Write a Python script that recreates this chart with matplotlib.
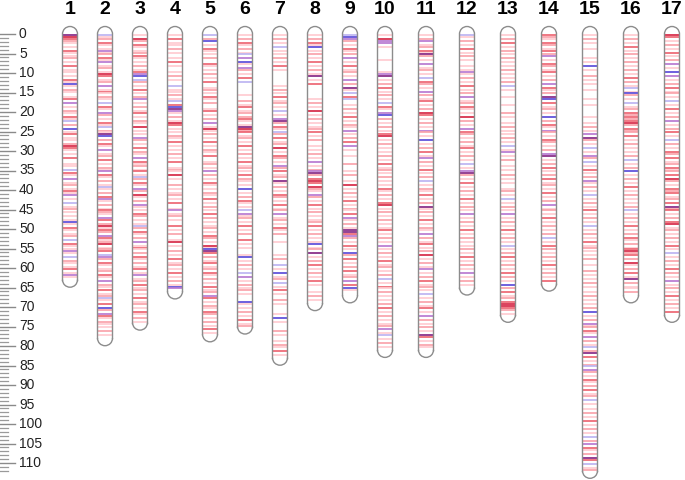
import matplotlib.pyplot as plt
from matplotlib.patches import Arc

# chromosome names and lengths (cM)
chrom_names = [str(i) for i in range(1, 18)]
chrom_len = [63, 78, 74, 66, 77, 75, 83, 69, 67, 81, 81, 65, 72, 64, 112, 67, 72]

# bands, one character per 0.5 cM  (. none, p/q/r/R reds, b/B blues, m/M purples)
chr1 = ("MRrqp.p.rp" ".pq.p.r.pp" ".p.rpBp.qp" "..pr.m.p.q" "p.rpb.q.B." "pr.pp.qRrp"
        ".p.r..pp.b" ".rp.m.pq.p" "rpm.p.b.pq" ".p.p.pBp.r" "p.pq.b.rp." "pmp.b.qp.p" "r.pmp.")
chr2 = ("bpq.rp.pmp" "q.rpm.pq.p" "Rr.pq.m.pr" "p.qp.b.rp." "mq.p.rpb.q" "pMB.q.rp.m"
        ".pq.r.p.qp" "m.rp.q.pbp" ".q.rmp.q.p" "rqp.mr.qRp" "rq.mrpqR.p" "qr.bmq.rp."
        "pq.rp.m.qp" ".r.pqbp.r." "Bq.mrp.qp." "p.q.p.")
chr3 = ("p.Rq.rp.pq" ".rp.p.q.pr" "mB.bq.p.r." "p.qm.p.q.p" "r.p.qp.R.p" ".p.mq.p.r."
        "qp.m.rpq.p" "r.pbq.rp.m" "q.Rp.q.mp." "p.rq.p.pbq" ".rp.q.m.pr" "p.q.rp.q.p"
        "r.pm.pq.r." "pq.p.r.pq." "p.rp.q.p")
chr4 = ("p.r.pp.q.p" "..p.r.p..p" ".q.p..b.pp" ".q.pb.rBMm" "p.q.pRr.p." "p.qp.r.p.p"
        ".q.p.r..pq" "p.R.p..q.p" ".pq.p.r..p" "m.pq.p..r." "p.q..pR.p." ".q.p.r.pq."
        "p.r.p.q.pB" "m.")
chr5 = ("b.qB.p.rp." "p.q..rp.p." "q.p.r..pq." "p.rp.q..pr" ".p.q.m.pRp" ".q.p.r.p.q"
        "p.r..pq.p." "m.q.p.rp.p" ".qp.r.p.q." "p.r.q.p.pq" ".p.rq.p.Rp" "BMr.q.pr.p"
        "q.rp.q.p.r" ".pq.mr.p.q" "p.rq.p.q.p" ".r.p")
chr6 = ("p.q.rp.q.p" "b.m.Bp.mq." "p.r.b....." ".p..q.pr.p" "q.qrp.pMRq" "r.pq.p.r.p"
        ".q.p.r.pq." "p.r.qp.p.B" ".p.q.rp.p." "b.mpq.p.r." "p.q..r.p.p" "...pB.p.q."
        "p.b.m.p.q." "pq.p...Bp." "p.q.p.r.pq")
chr7 = ("p.q.p.b.p." "p.q.p.r.p." "......p.q." "p.r.pq.p.b" ".p.mMq.rp." "bq.r.pq.R."
        "p.rq.p.mq." "r.pq.Mp.q." "p.rq.p.r.p" "q.m.pq.p.r" "p.q...p..." "...p.q..b."
        "p.B.pq.b.p" ".r.p..q.p." "...p.B.p.." "..q.p..p.q" "p.r.p.")
chr8 = ("p.q.rpB.p." "q.p.r.p.q." "pM.p.r...." "...p.q.p.R" ".p.q.p.pq." "r.p.q..p.p"
        ".q.p.m.p.q" "mMq.rRr.Rq" "p.mq.p.r.p" ".q.p.pq.r." "p.q.p.pB.p" "q.M.p.q.r."
        "p.q.p.r.p." "..p.q.p.")
chr9 = ("bBmq.p.rp." "q.m.p.r.pq" ".p.m.q.Mp." "b.rb..p.q." "p.r.p.qp.m" ".p.q.r.m.p"
        "..p...q..." "p.q..p.R.p" ".q.p.r.p.q" "p.r.mp.q.p" "MMrmq.p.r." "p.Bq.r.p.q"
        ".r.pq.m.r." "Bp..")
chr10 = ("p.Rmm.p..." "...p.....p" "mM.p.q.r.p" ".q.p.b.rp." "mB.q.p.q.p" ".rR.p.q.p."
         "p.q.p.r.pq" ".p.q.p.p.r" "p.q.p.rR.p" ".q.p.q.p.p" "r.p.q.p.m." "p.q.p.r.pq"
         ".p.q.b.p.r" "p.q.p.p.q." "r.p.q.p.pq" ".m.pb.p.q." "p.")
chr11 = ("p.qm.pq.rp" "Mq.p.m.pq." "p.b.rq.p.m" ".q.pr.p.q." "Rr.p.q.p.m" "q.p.B.p.q."
         "r.pm.q.p.r" ".p.q.b.p.q" "p.r.p.q.Mp" ".q.p.r.p.q" "p.m.q.pr.p" ".q.R.p.q.p"
         "m.p.q.r.pq" ".p.b.p.q.p" "r.p.m.q.p." "q.p.Mr.p.q" "p.")
chr12 = ("bp.q.p.r.p" ".q.p..p.pm" "p.q.p.r.p." "q.m.pq.rp." "p.R.q.p.m." "rq.p.q.pr."
         "p.q.p.b.p." "mMq.p.r.p." "q.p.r.p.q." "p.m.p.q.p." "r.p.q.p.p." "q.p.r.p.q."
         "p.m.p.q.p.")
chr13 = ("p.q.r.p.q." "p.q.p.p.q." "p.p.q.b.p." "..p...p..." "q.p..p.q.p" ".p.q.p.b.p"
         "m.p.q..p.p" "..q.p.p..p" "q.p.b.p.q." "p.m.p.q.p." "r.p.q.p.b." "p.q.r.p.q."
         "p.r.q.p.B." "q.r.pq.rRR" "rq.p")
chr14 = ("rqp.rq.pr." "qm.p.rq.pr" ".p.q.m.rp." "q.MB.r.pq." "p.B.q.rp.m" "q.p.rq.p.q"
         ".mM.p.q.r." "p.q.r.pq.p" ".r.p.q.m.p" "q.p.r.p.q." "p.q.b.p.r." "q.p.q.p.r."
         "p.q.p.r.")
chr15 = ("p.q.p..p.." "..p.p.B.p." ".q.p.p..p." "...p..p..." "..p..p.q.p" ".m.Mq.p.b."
         "p.mq.b.p.r" ".p.q.mp.q." "p.b.p.q.p." "r.p.q.p.b." "p.q.p.r.pq" ".p.p.q..p."
         ".q.p.p.q.p" "..p.q.p.p." "q.B.p.q.mp" "q.rp.m.q.p" "b.qM.r.p.q" "b.mq.p.rp."
         "q.r.pq.b.p" "..p.q.p.r." "p.q.p.b.q." "m.rp.q.Mr." "b.pq")
chr16 = ("p.q.p.r.p." "q.p.q.p.q." "p.r.q.pb.p" "Bq.p.b.pq." "rqrqrRq.rq" "q.r.p.q.p."
         "p.q.b.p.q." "B.p.q.p.r." "p.q.p.p.q." "b.p.q.p.r." "p.q.rp.q.p" "rRqr.q.Rp."
         "q.r.pM.q.p" "p.q.")
chr17 = ("Rr.p.q.p.r" ".p.q.m.p.B" ".m.p.q.r.p" "q.p.b.p.r." "p.q.m.p.q." "r.p.b.q.p."
         "rq.r.pq.rp" "q.r.Rq.p.r" "qr.pq.r.Mq" "r.p.q.rR.p" "q.p.q.p.r." "p.b.p.q.p."
         "r.q.p.m.p." "q.p.r.p.q." "p.r.")

bands = [chr1, chr2, chr3, chr4, chr5, chr6, chr7, chr8, chr9, chr10,
         chr11, chr12, chr13, chr14, chr15, chr16, chr17]

band_colors = {
    "p": (1.00, 0.80, 0.82),
    "q": (0.98, 0.64, 0.67),
    "r": (0.93, 0.40, 0.45),
    "R": (0.84, 0.16, 0.28),
    "b": (0.74, 0.71, 0.95),
    "B": (0.36, 0.30, 0.85),
    "m": (0.72, 0.48, 0.82),
    "M": (0.52, 0.16, 0.52),
}

# layout: 1 x unit = 1 pixel, y in cM (3.9 px per cM)
PX = 3.9
Y0 = 34
half_w = 7.5
cap_r = half_w / PX
xs = []
for i in range(len(chrom_names)):
    if i <= 9:
        xs.append(70 + 35 * i)
    else:
        xs.append(385 + 41 * (i - 9))

fig = plt.figure(figsize=(6.85, 4.8), dpi=100)
ax = fig.add_axes([0, 0, 1, 1])
ax.set_xlim(0, 685)
ax.set_ylim((480 - Y0) / PX, -Y0 / PX)
ax.axis("off")

# ruler
for t in range(0, 113):
    if t % 5 == 0:
        ax.plot([0, 15], [t, t], color="#8a8a8a", lw=1.0)
        ax.text(19, t, str(t), ha="left", va="center", fontsize=10,
                family="Liberation Sans", color="#222222")
    else:
        ax.plot([0, 8], [t, t], color="#9a9a9a", lw=0.9)

# chromosomes
for x, name, L, code in zip(xs, chrom_names, chrom_len, bands):
    for k, c in enumerate(code):
        pos = k * 0.5 + 0.25
        if c == "." or pos > L:
            continue
        ax.plot([x - half_w, x + half_w], [pos, pos], color=band_colors[c],
                lw=1.25, solid_capstyle="butt")
    ax.plot([x - half_w, x - half_w], [0, L], color="#8c8c8c", lw=1.0)
    ax.plot([x + half_w, x + half_w], [0, L], color="#8c8c8c", lw=1.0)
    ax.add_patch(Arc((x, 0), 2 * half_w, 2 * cap_r, theta1=180, theta2=360,
                     color="#8c8c8c", lw=1.0))
    ax.add_patch(Arc((x, L), 2 * half_w, 2 * cap_r, theta1=0, theta2=180,
                     color="#8c8c8c", lw=1.0))
    ax.text(x, -24 / PX, name, ha="center", va="center", fontsize=14,
            fontweight="bold", family="Liberation Sans")

fig.savefig("out.png", dpi=100)
